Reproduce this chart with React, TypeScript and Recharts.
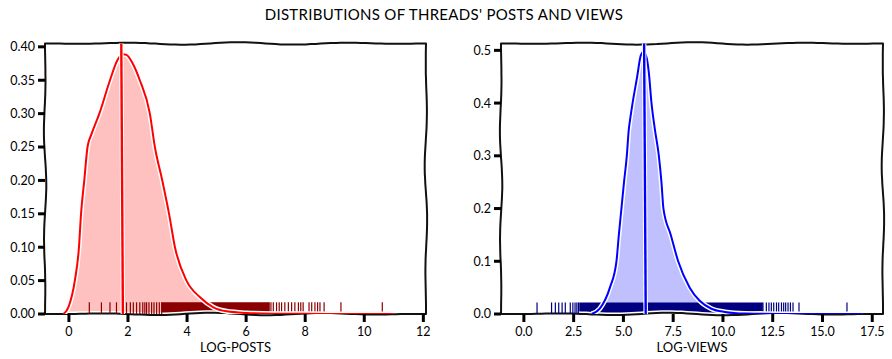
import React from "react";
import { ComposedChart, Area, Line, XAxis, YAxis, ReferenceLine, ReferenceArea } from "recharts";

// log-posts density (kde)
const postsX = [-0.19, -0.02, 0.2, 0.34, 0.41, 0.52, 0.63, 0.77, 1.03, 1.39, 1.64, 1.84, 1.95, 2.16, 2.4, 2.74, 2.91, 3.16, 3.39, 3.59, 3.98, 4.44, 4.89, 5.34, 6.02, 6.92, 8.0, 9.5, 11.0];
const postsDensity = [0, 0.01, 0.05, 0.1, 0.15, 0.2, 0.25, 0.27, 0.3, 0.35, 0.38, 0.389, 0.388, 0.375, 0.35, 0.3, 0.25, 0.2, 0.15, 0.1, 0.05, 0.025, 0.01, 0.004, 0.0015, 0.0005, 0.0002, 0.0001, 0];
const postsRug = [0.69, 1.1, 1.39, 1.61, 1.95, 2.08, 2.18, 2.29, 2.4, 2.5, 2.57, 2.63, 2.71, 2.8, 2.88, 2.97, 3.06, 3.14, 6.78, 6.84, 6.92, 7.03, 7.12, 7.2, 7.31, 7.43, 7.54, 7.65, 7.77, 7.85, 7.93, 8.13, 8.22, 8.33, 8.42, 8.5, 8.64, 9.21, 10.61];
const postsRugBand = [3.14, 6.78];
const postsMedian = 1.8;

// log-views density (kde)
const viewsX = [3.4, 3.81, 4.32, 4.65, 4.77, 4.9, 5.03, 5.17, 5.27, 5.34, 5.46, 5.69, 5.87, 6.0, 6.16, 6.27, 6.41, 6.58, 6.78, 6.91, 7.01, 7.38, 7.75, 8.33, 8.83, 9.42, 10.09, 11.09, 13.0, 15.0, 17.0];
const viewsDensity = [0, 0.01, 0.05, 0.1, 0.15, 0.2, 0.25, 0.3, 0.35, 0.37, 0.4, 0.45, 0.49, 0.497, 0.487, 0.46, 0.4, 0.35, 0.3, 0.25, 0.2, 0.15, 0.1, 0.05, 0.025, 0.01, 0.004, 0.001, 0.0002, 0.0001, 0];
const viewsRug = [0.66, 1.39, 1.58, 1.75, 1.92, 2.08, 2.33, 2.46, 2.57, 2.66, 2.74, 12.01, 12.18, 12.31, 12.43, 12.55, 12.69, 12.8, 12.94, 13.05, 13.15, 13.27, 13.39, 13.52, 13.82, 16.23];
const viewsRugBand = [2.78, 12.0];
const viewsMedian = 6.08;

const postsTicks = [0, 2, 4, 6, 8, 10, 12];
const postsYTicks = [0, 0.05, 0.1, 0.15, 0.2, 0.25, 0.3, 0.35, 0.4];
const viewsTicks = [0, 2.5, 5, 7.5, 10, 12.5, 15, 17.5];
const viewsYTicks = [0, 0.1, 0.2, 0.3, 0.4, 0.5];

const FONT = "Lato, 'Open Sans', sans-serif";

// hand-drawn looking frame
function wobblyEdge(x1: number, y1: number, x2: number, y2: number, phase: number) {
  const len = Math.hypot(x2 - x1, y2 - y1);
  const n = Math.max(2, Math.round(len / 5));
  const nx = -(y2 - y1) / len;
  const ny = (x2 - x1) / len;
  const pts: string[] = [];
  for (let i = 0; i <= n; i++) {
    const t = i / n;
    const off = 1.3 * Math.sin((t * len) / 18 + phase) * Math.sin(t * Math.PI);
    pts.push(`${(x1 + (x2 - x1) * t + nx * off).toFixed(1)},${(y1 + (y2 - y1) * t + ny * off).toFixed(1)}`);
  }
  return pts.join(" L");
}

const WobblyFrame = (props: any) => {
  const { x, y, width, height } = props;
  if (x == null || y == null) return null;
  const d =
    "M" + wobblyEdge(x, y, x + width, y, 0.3) +
    " M" + wobblyEdge(x + width, y, x + width, y + height, 1.1) +
    " M" + wobblyEdge(x + width, y + height, x, y + height, 2.2) +
    " M" + wobblyEdge(x, y + height, x, y, 0.7);
  return (
    <g>
      <path d={d} fill="none" stroke="#fff" strokeWidth={5} strokeLinecap="round" />
      <path d={d} fill="none" stroke="#111" strokeWidth={2} strokeLinecap="round" />
    </g>
  );
};

// median line: colored stroke over a white halo, slightly slanted like xkcd
const makeMedianShape = (color: string) => (props: any) => {
  const { x1, y1, x2, y2 } = props;
  if (x1 == null) return null;
  const d = `M${x1 + 0.8},${y1} L${x2 - 0.8},${y2}`;
  return (
    <g>
      <path d={d} stroke="#fff" strokeWidth={4.5} fill="none" />
      <path d={d} stroke={color} strokeWidth={2.4} fill="none" />
    </g>
  );
};

interface PanelProps {
  xs: number[];
  ys: number[];
  rug: number[];
  band: number[];
  median: number;
  lineColor: string;
  fill: string;
  rugColor: string;
  xDomain: [number, number];
  yDomain: [number, number];
  xTicks: number[];
  yTicks: number[];
  xDigits: number;
  yDigits: number;
  label: string;
  rugH: number;
  left: number;
  marginLeft: number;
  marginRight: number;
  yWidth: number;
}

function Panel(p: PanelProps) {
  const data = p.xs.map((x, i) => ({ x, y: p.ys[i] }));
  const tick = { fontFamily: FONT, fontSize: 12.5, fill: "#000" };
  return (
    <div style={{ position: "absolute", left: p.left, top: 30 }}>
      <ComposedChart
        width={446}
        height={329}
        data={data}
        margin={{ top: 13.5, right: p.marginRight, bottom: 5, left: p.marginLeft }}
      >
        <XAxis
          dataKey="x"
          type="number"
          domain={p.xDomain}
          ticks={p.xTicks}
          allowDataOverflow
          axisLine={false}
          tickLine={{ stroke: "#000", strokeWidth: 3 }}
          tickSize={8}
          tickMargin={5}
          height={40}
          tick={tick}
          tickFormatter={(v: number) => v.toFixed(p.xDigits)}
          label={{ value: p.label, position: "insideBottom", offset: 2, style: { fontFamily: FONT, fontSize: 13, fill: "#000" } }}
        />
        <YAxis
          type="number"
          domain={p.yDomain}
          ticks={p.yTicks}
          allowDataOverflow
          axisLine={false}
          tickLine={{ stroke: "#000", strokeWidth: 3 }}
          tickSize={7}
          tickMargin={3}
          width={p.yWidth}
          tick={tick}
          tickFormatter={(v: number) => v.toFixed(p.yDigits)}
        />
        <Area dataKey="y" type="monotone" stroke="none" fill={p.fill} fillOpacity={1} isAnimationActive={false} />
        <ReferenceArea x1={p.band[0]} x2={p.band[1]} y1={0} y2={p.rugH} fill={p.rugColor} fillOpacity={1} stroke="none" />
        {p.rug.map((v) => (
          <ReferenceLine key={v} segment={[{ x: v, y: 0 }, { x: v, y: p.rugH }]} stroke={p.rugColor} strokeWidth={1.2} />
        ))}
        <Line dataKey="y" type="monotone" stroke="#fff" strokeWidth={5} dot={false} isAnimationActive={false} />
        <Line dataKey="y" type="monotone" stroke={p.lineColor} strokeWidth={2} dot={false} isAnimationActive={false} />
        <ReferenceLine x={p.median} shape={makeMedianShape(p.lineColor)} />
        <ReferenceArea
          x1={p.xDomain[0]}
          x2={p.xDomain[1]}
          y1={p.yDomain[0]}
          y2={p.yDomain[1]}
          shape={WobblyFrame}
        />
      </ComposedChart>
    </div>
  );
}

export default function App() {
  return (
    <div style={{ position: "absolute", left: 0, top: 0, width: 892, height: 359, background: "#fff" }}>
      <div
        style={{
          position: "absolute",
          top: 5,
          left: 0,
          width: 888,
          textAlign: "center",
          fontFamily: FONT,
          fontSize: 15,
          lineHeight: "18px",
          letterSpacing: 0.3,
          color: "#000",
        }}
      >
        DISTRIBUTIONS OF THREADS' POSTS AND VIEWS
      </div>
      <Panel
        xs={postsX}
        ys={postsDensity}
        rug={postsRug}
        band={postsRugBand}
        median={postsMedian}
        lineColor="#ff0000"
        fill="#ffc0c0"
        rugColor="#8b0000"
        xDomain={[-0.81, 12.09]}
        yDomain={[0, 0.405]}
        xTicks={postsTicks}
        yTicks={postsYTicks}
        xDigits={0}
        yDigits={2}
        label="LOG-POSTS"
        rugH={0.0175}
        left={0}
        marginLeft={5}
        marginRight={20}
        yWidth={40}
      />
      <Panel
        xs={viewsX}
        ys={viewsDensity}
        rug={viewsRug}
        band={viewsRugBand}
        median={viewsMedian}
        lineColor="#0000ff"
        fill="#c0c0ff"
        rugColor="#000080"
        xDomain={[-1.15, 18.04]}
        yDomain={[0, 0.513]}
        xTicks={viewsTicks}
        yTicks={viewsYTicks}
        xDigits={1}
        yDigits={1}
        label="LOG-VIEWS"
        rugH={0.022}
        left={446}
        marginLeft={10}
        marginRight={9}
        yWidth={45}
      />
    </div>
  );
}
